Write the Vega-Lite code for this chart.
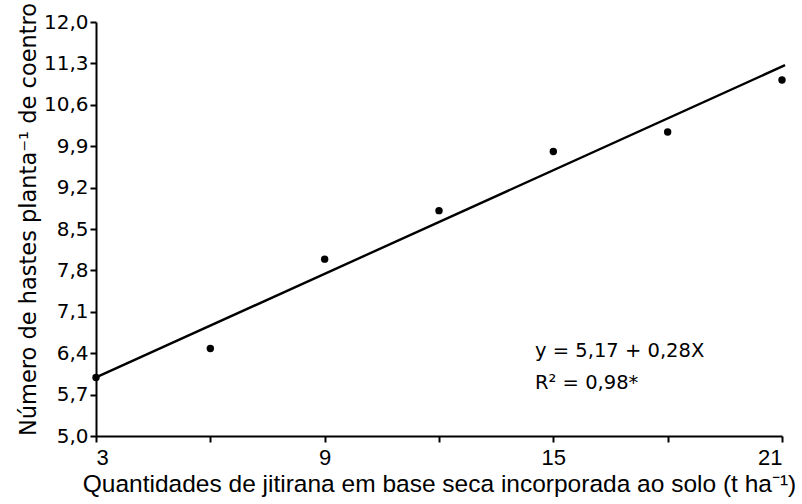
{
  "$schema": "https://vega.github.io/schema/vega-lite/v6.json",
  "width": 686,
  "height": 414,
  "autosize": "none",
  "padding": {"left": 96, "top": 22, "right": 20, "bottom": 68},
  "background": "white",
  "config": {
    "view": {"stroke": null},
    "font": "Liberation Sans",
    "axis": {"domainColor": "black", "tickColor": "black", "labelColor": "black", "titleColor": "black", "grid": false, "domainWidth": 2, "tickWidth": 2, "titleFontWeight": "normal"}
  },
  "datasets": {
    "points": [
      {"x": 3, "y": 5.99},
      {"x": 6, "y": 6.48},
      {"x": 9, "y": 7.99},
      {"x": 12, "y": 8.81},
      {"x": 15, "y": 9.81},
      {"x": 18, "y": 10.14},
      {"x": 21, "y": 11.02}
    ],
    "fit": [
      {"x": 3, "y": 5.99},
      {"x": 21.08, "y": 11.27}
    ],
    "notes": [
      {"x": 14.52, "y": 6.43, "label": "y = 5,17 + 0,28X"},
      {"x": 14.52, "y": 5.89, "label": "R² = 0,98*"}
    ]
  },
  "layer": [
    {
      "data": {"name": "fit"},
      "mark": {"type": "line", "color": "black", "strokeWidth": 2.4, "clip": false},
      "encoding": {
        "x": {"field": "x", "type": "quantitative", "scale": {"domain": [3, 21], "nice": false, "zero": false},
          "axis": {"values": [3, 6, 9, 12, 15, 18, 21], "labelExpr": "datum.value % 6 == 3 ? datum.label : ''", "labelFont": "Liberation Sans", "labelFontSize": 22, "labelPadding": 5, "tickSize": 6, "title": "Quantidades de jitirana em base seca incorporada ao solo (t ha⁻¹)", "titleFont": "Liberation Sans", "titleFontSize": 24.5, "titlePadding": 4}},
        "y": {"field": "y", "type": "quantitative", "scale": {"domain": [5, 12], "nice": false, "zero": false},
          "axis": {"values": [5, 5.7, 6.4, 7.1, 7.8, 8.5, 9.2, 9.9, 10.6, 11.3, 12], "labelExpr": "replace(format(datum.value, '.1f'), '.', ',')", "labelFont": "DejaVu Sans", "labelFontSize": 20, "labelPadding": 2, "tickSize": 6, "title": "Número de hastes planta⁻¹ de coentro", "titleFont": "DejaVu Sans", "titleFontSize": 22.5, "titlePadding": 3, "titleY": 197}}
      }
    },
    {
      "data": {"name": "points"},
      "mark": {"type": "circle", "color": "black", "opacity": 1, "size": 55, "clip": false},
      "encoding": {
        "x": {"field": "x", "type": "quantitative"},
        "y": {"field": "y", "type": "quantitative"}
      }
    },
    {
      "data": {"name": "notes"},
      "mark": {"type": "text", "align": "left", "baseline": "middle", "font": "DejaVu Sans", "fontSize": 19.5, "color": "black"},
      "encoding": {
        "x": {"field": "x", "type": "quantitative"},
        "y": {"field": "y", "type": "quantitative"},
        "text": {"field": "label"}
      }
    }
  ]
}
